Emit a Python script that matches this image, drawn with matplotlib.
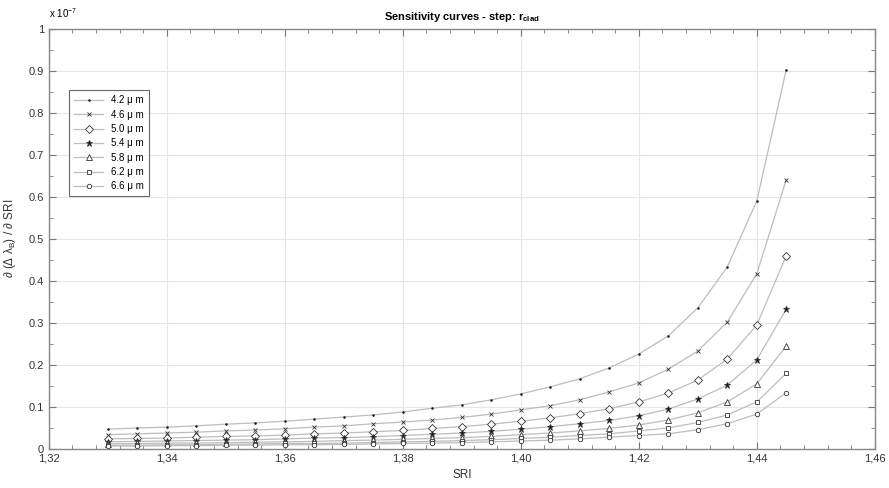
import matplotlib
matplotlib.use("Agg")
import matplotlib.pyplot as plt
from matplotlib.ticker import MultipleLocator, FuncFormatter

plt.rcParams['font.family'] = ['Liberation Sans', 'DejaVu Sans']
plt.rcParams['mathtext.default'] = 'regular'

# SRI sample points
sri = [1.330, 1.335, 1.340, 1.345, 1.350, 1.355, 1.360, 1.365, 1.370, 1.375,
       1.380, 1.385, 1.390, 1.395, 1.400, 1.405, 1.410, 1.415, 1.420, 1.425,
       1.430, 1.435, 1.440, 1.445]

# sensitivity values (x 1e-7), one list per cladding radius
s_42 = [0.047, 0.050, 0.052, 0.055, 0.059, 0.062, 0.066, 0.071, 0.076, 0.081,
        0.088, 0.097, 0.105, 0.117, 0.131, 0.148, 0.167, 0.193, 0.226, 0.269,
        0.336, 0.433, 0.590, 0.903]
s_46 = [0.034, 0.036, 0.038, 0.040, 0.043, 0.045, 0.048, 0.052, 0.055, 0.060,
        0.064, 0.069, 0.075, 0.083, 0.093, 0.103, 0.117, 0.136, 0.157, 0.190,
        0.233, 0.302, 0.417, 0.641]
s_50 = [0.024, 0.025, 0.026, 0.028, 0.030, 0.031, 0.033, 0.036, 0.038, 0.041,
        0.044, 0.049, 0.053, 0.059, 0.066, 0.074, 0.084, 0.096, 0.112, 0.133,
        0.164, 0.214, 0.295, 0.460]
s_54 = [0.017, 0.018, 0.019, 0.020, 0.021, 0.022, 0.024, 0.026, 0.027, 0.029,
        0.032, 0.035, 0.038, 0.042, 0.047, 0.053, 0.060, 0.068, 0.079, 0.095,
        0.119, 0.152, 0.212, 0.333]
s_58 = [0.012, 0.013, 0.014, 0.014, 0.015, 0.016, 0.017, 0.018, 0.020, 0.021,
        0.023, 0.025, 0.027, 0.030, 0.034, 0.038, 0.043, 0.049, 0.057, 0.069,
        0.086, 0.112, 0.155, 0.245]
s_62 = [0.009, 0.009, 0.010, 0.010, 0.011, 0.012, 0.013, 0.013, 0.014, 0.015,
        0.017, 0.018, 0.020, 0.022, 0.025, 0.028, 0.032, 0.036, 0.043, 0.050,
        0.063, 0.081, 0.112, 0.180]
s_66 = [0.007, 0.007, 0.008, 0.008, 0.009, 0.009, 0.010, 0.010, 0.011, 0.012,
        0.013, 0.014, 0.015, 0.017, 0.019, 0.021, 0.024, 0.028, 0.032, 0.036,
        0.046, 0.060, 0.083, 0.134]

labels = ['4.2 \u03bc m', '4.6 \u03bc m', '5.0 \u03bc m', '5.4 \u03bc m',
          '5.8 \u03bc m', '6.2 \u03bc m', '6.6 \u03bc m']
series = [s_42, s_46, s_50, s_54, s_58, s_62, s_66]
markers = ['.', 'x', 'D', '*', '^', 's', 'o']
msizes = [2.5, 3.5, 4.2, 4.5, 5, 3.2, 3.2]

fig = plt.figure(figsize=(8.89, 4.88), dpi=100)
ax = fig.add_axes([0.055, 0.080, 0.929, 0.861])

for ys, lab, m, ms in zip(series, labels, markers, msizes):
    face = '#111111' if m in ('.', '*') else 'white'
    ax.plot(sri, ys, color='#bdbdbd', lw=0.9, marker=m, ms=ms,
            mec='#333333', mfc=face, mew=0.6, label=lab)

ax.set_xlim(1.32, 1.46)
ax.set_ylim(0, 1)
ax.xaxis.set_major_locator(MultipleLocator(0.02))
ax.xaxis.set_minor_locator(MultipleLocator(0.004))
ax.yaxis.set_major_locator(MultipleLocator(0.1))
ax.yaxis.set_minor_locator(MultipleLocator(0.05))
ax.xaxis.set_major_formatter(FuncFormatter(lambda v, p: f"{v:.2f}".replace('.', ',')))
ax.yaxis.set_major_formatter(FuncFormatter(lambda v, p: "0" if abs(v) < 1e-9 else ("1" if abs(v - 1) < 1e-9 else f"{v:.1f}")))

ax.grid(True, which='major', color='#e6e6e6', lw=0.8)
ax.tick_params(which='both', direction='in', top=True, right=True,
               labelsize=8, labelcolor='#333333', color='#777777')
ax.tick_params(which='major', length=5)
ax.tick_params(which='minor', length=3)
for sp in ax.spines.values():
    sp.set_color('#888888')
    sp.set_linewidth(1.0)

ax.set_title('Sensitivity curves - step: $r_{clad}$', fontsize=8, fontweight='bold', pad=6)
ax.set_xlabel('SRI', fontsize=8.5, labelpad=4, color='#333333')
ax.set_ylabel('\u2202 (\u0394 \u03bb$_B$) / \u2202 SRI', fontsize=8.5, labelpad=8, color='#333333')
ax.text(0.0, 1.02, 'x 10$^{-7}$', transform=ax.transAxes, fontsize=7, ha='left', va='bottom')

leg = ax.legend(loc='upper left', bbox_to_anchor=(0.019, 0.865), fontsize=7,
                frameon=True, fancybox=False, edgecolor='#444444',
                handlelength=3, borderpad=0.5, labelspacing=0.45)
leg.get_frame().set_linewidth(0.8)

fig.savefig('out.png', dpi=100)
